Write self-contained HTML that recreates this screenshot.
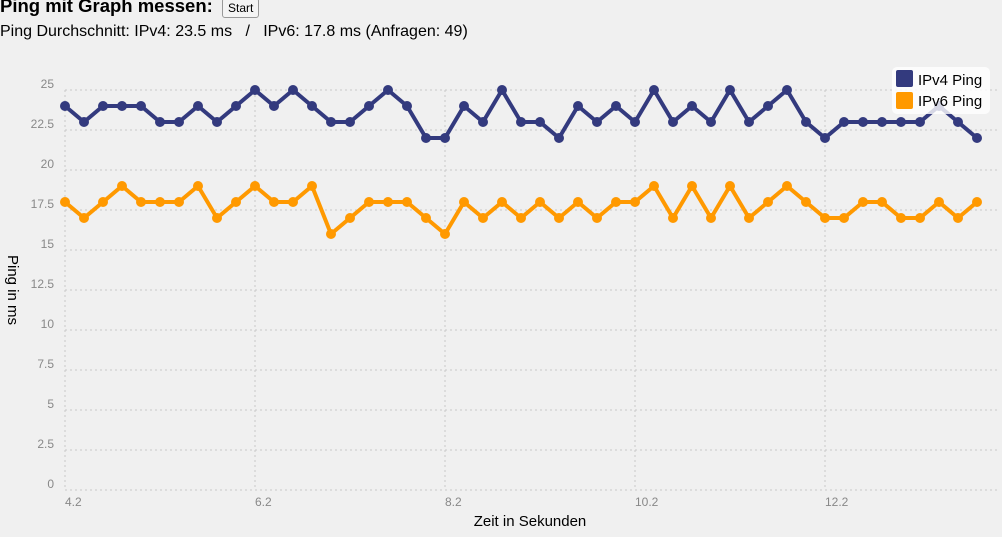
<!DOCTYPE html>
<html><head><meta charset="utf-8"><style>
html,body{margin:0;padding:0;background:#f0f0f0;width:1002px;height:537px;overflow:hidden;font-family:"Liberation Sans",Arial,sans-serif}
h3{position:absolute;left:0;top:-5px;margin:0;font-size:18.5px;font-weight:bold;color:#000}
button{position:absolute;left:222px;top:-2px;font-family:"Liberation Sans",sans-serif;font-size:12px;padding:1px 5px;height:20px;border:1px solid #999;border-radius:3px;background:#f4f4f4}
.avg{position:absolute;left:0;top:23px;font-size:16px;color:#000;white-space:pre}
svg{position:absolute;left:0;top:0}
</style></head><body>
<h3>Ping mit Graph messen:</h3><button>Start</button>
<div class="avg">Ping Durchschnitt: IPv4: 23.5 ms   /   IPv6: 17.8 ms (Anfragen: 49)</div>
<svg id="s" width="1002" height="537" xmlns="http://www.w3.org/2000/svg"></svg>
<script>
var v4=[24,23,24,24,24,23,23,24,23,24,25,24,25,24,23,23,24,25,24,22,22,24,23,25,23,23,22,24,23,24,23,25,23,24,23,25,23,24,25,23,22,23,23,23,23,23,24,23,22];
var v6=[18,17,18,19,18,18,18,19,17,18,19,18,18,19,16,17,18,18,18,17,16,18,17,18,17,18,17,18,17,18,18,19,17,19,17,19,17,18,19,18,17,17,18,18,17,17,18,17,18];
var h='';
function Y(v){return 490-16*v;}
for(var k=0;k<=10;k++){var v=k*2.5,y=Y(v);
h+='<line x1="65" y1="'+y+'" x2="1000" y2="'+y+'" stroke="#c8c8c8" stroke-dasharray="2,3"/>';
h+='<text x="54" y="'+(y-2)+'" text-anchor="end" font-size="12" fill="#888">'+v+'</text>';}
var xl=['4.2','6.2','8.2','10.2','12.2'];
for(var k=0;k<5;k++){var x=65+190*k;
h+='<line x1="'+x+'" y1="90" x2="'+x+'" y2="490" stroke="#c8c8c8" stroke-dasharray="2,3"/>';
h+='<text x="'+x+'" y="506" font-size="12" fill="#888">'+xl[k]+'</text>';}
h+='<text x="530" y="526" text-anchor="middle" font-size="15" fill="#000">Zeit in Sekunden</text>';
h+='<text transform="translate(8,290) rotate(90)" text-anchor="middle" font-size="15" fill="#000">Ping in ms</text>';
function ser(d,c){var p='';for(var i=0;i<d.length;i++)p+=(65+19*i)+','+Y(d[i])+' ';
var s='<polyline points="'+p+'" fill="none" stroke="'+c+'" stroke-width="4" stroke-linejoin="round"/>';
for(var i=0;i<d.length;i++)s+='<circle cx="'+(65+19*i)+'" cy="'+Y(d[i])+'" r="5" fill="'+c+'"/>';return s;}
h+=ser(v6,'#ff9900')+ser(v4,'#333a7e');
h+='<rect x="892" y="67" width="98" height="47" rx="5" fill="#fff" fill-opacity="0.8"/>';
h+='<rect x="896" y="70" width="17" height="17" rx="2" fill="#333a7e"/><text x="918" y="85" font-size="15">IPv4 Ping</text>';
h+='<rect x="896" y="92" width="17" height="17" rx="2" fill="#ff9900"/><text x="918" y="106" font-size="15">IPv6 Ping</text>';
document.getElementById('s').innerHTML=h;
</script>
</body></html>
